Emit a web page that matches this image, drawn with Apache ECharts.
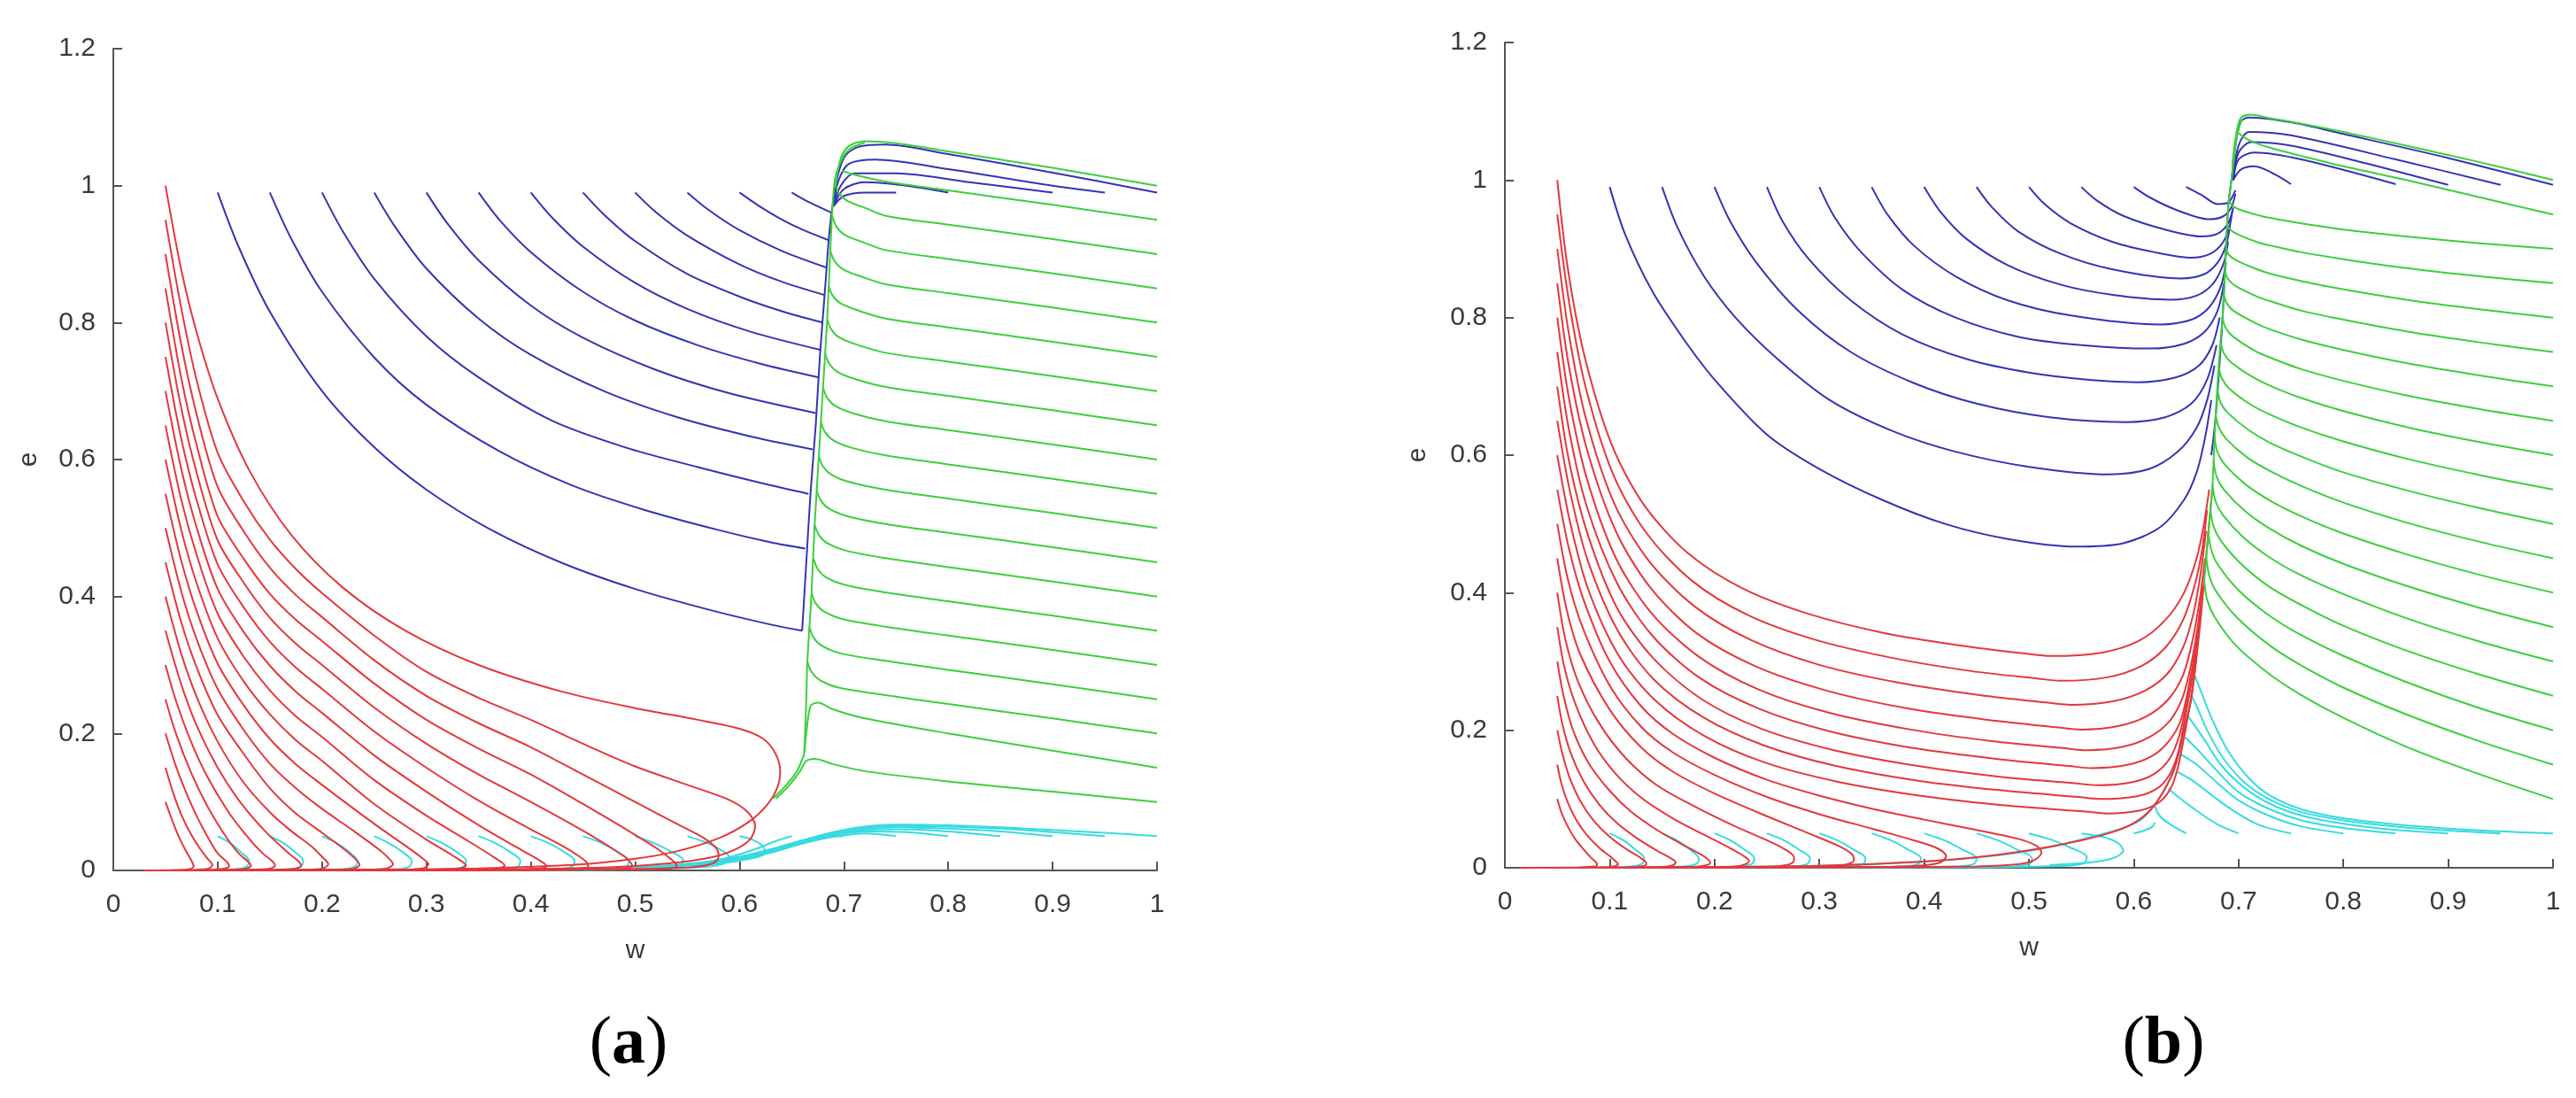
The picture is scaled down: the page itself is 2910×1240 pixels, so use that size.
<!DOCTYPE html>
<html>
<head>
<meta charset="utf-8">
<script src="https://cdn.jsdelivr.net/npm/echarts@6/dist/echarts.min.js"></script>
<style>
html, body { margin: 0; padding: 0; background: #fff; }
#chart { width: 2910px; height: 1240px; }
</style>
</head>
<body>
<div id="chart"></div>
<script>
// tick labels
var xTickLabels = ['0', '0.1', '0.2', '0.3', '0.4', '0.5', '0.6', '0.7', '0.8', '0.9', '1'];
var yTickLabels = ['0', '0.2', '0.4', '0.6', '0.8', '1', '1.2'];
var panelLabels = ['a', 'b'];

// ---- panel (a) trajectories, [w, e] ----
var aRed = [
  [[0.05,0.1],[0.056,0.075],[0.062,0.052],[0.069,0.03],[0.075,0.014],[0.077,0.006],[0.073,0.002],[0.06,0.0006],[0.03,0]],
  [[0.05,0.15],[0.057,0.115],[0.065,0.082],[0.074,0.054],[0.083,0.032],[0.091,0.016],[0.095,0.008],[0.091,0.0025],[0.075,0.0007],[0.04,0]],
  [[0.05,0.2],[0.06,0.152],[0.07,0.113],[0.08,0.079],[0.09,0.05],[0.1,0.025],[0.109,0.012],[0.111,0.006],[0.106,0.0025],[0.09,0.0007],[0.05,0]],
  [[0.05,0.25],[0.06,0.2],[0.075,0.141],[0.09,0.094],[0.105,0.056],[0.12,0.025],[0.129,0.013],[0.132,0.007],[0.127,0.0025],[0.11,0.0008],[0.06,0]],
  [[0.05,0.3],[0.06,0.248],[0.075,0.186],[0.09,0.137],[0.11,0.086],[0.127,0.052],[0.143,0.025],[0.152,0.014],[0.155,0.007],[0.15,0.0025],[0.13,0.0008],[0.07,0]],
  [[0.05,0.35],[0.065,0.272],[0.08,0.211],[0.1,0.15],[0.12,0.103],[0.145,0.058],[0.168,0.025],[0.177,0.014],[0.18,0.007],[0.175,0.0025],[0.155,0.0008],[0.08,0]],
  [[0.05,0.4],[0.065,0.317],[0.08,0.253],[0.1,0.188],[0.125,0.128],[0.15,0.085],[0.17,0.058],[0.19,0.035],[0.2,0.02],[0.206,0.009],[0.2,0.0025],[0.18,0.0008],[0.09,0]],
  [[0.05,0.45],[0.065,0.363],[0.08,0.296],[0.1,0.227],[0.125,0.17],[0.15,0.12],[0.175,0.083],[0.2,0.055],[0.222,0.03],[0.233,0.015],[0.236,0.008],[0.23,0.0025],[0.21,0.0008],[0.1,0]],
  [[0.05,0.5],[0.065,0.408],[0.08,0.337],[0.1,0.265],[0.125,0.205],[0.15,0.156],[0.175,0.12],[0.2,0.09],[0.23,0.058],[0.255,0.03],[0.265,0.016],[0.268,0.009],[0.262,0.003],[0.24,0.001],[0.11,0]],
  [[0.05,0.55],[0.065,0.453],[0.08,0.378],[0.1,0.302],[0.125,0.241],[0.15,0.192],[0.175,0.155],[0.2,0.125],[0.25,0.068],[0.28,0.036],[0.296,0.018],[0.302,0.009],[0.296,0.003],[0.27,0.001],[0.12,0]],
  [[0.05,0.6],[0.065,0.498],[0.08,0.419],[0.1,0.339],[0.125,0.276],[0.15,0.228],[0.175,0.19],[0.2,0.16],[0.25,0.097],[0.3,0.045],[0.325,0.022],[0.335,0.012],[0.338,0.007],[0.332,0.003],[0.3,0.001],[0.13,0]],
  [[0.05,0.65],[0.065,0.542],[0.08,0.46],[0.1,0.375],[0.125,0.312],[0.15,0.263],[0.175,0.225],[0.2,0.195],[0.25,0.132],[0.3,0.08],[0.34,0.043],[0.362,0.022],[0.372,0.012],[0.375,0.007],[0.369,0.003],[0.34,0.001],[0.14,0]],
  [[0.05,0.7],[0.065,0.587],[0.08,0.5],[0.1,0.411],[0.125,0.348],[0.15,0.299],[0.175,0.261],[0.2,0.23],[0.25,0.168],[0.3,0.115],[0.35,0.066],[0.385,0.035],[0.405,0.018],[0.413,0.01],[0.415,0.006],[0.409,0.003],[0.38,0.0012],[0.15,0]],
  [[0.05,0.75],[0.065,0.631],[0.08,0.54],[0.1,0.447],[0.125,0.384],[0.15,0.334],[0.175,0.296],[0.2,0.265],[0.25,0.203],[0.3,0.15],[0.35,0.102],[0.4,0.06],[0.43,0.036],[0.447,0.02],[0.454,0.011],[0.455,0.006],[0.449,0.003],[0.42,0.0012],[0.16,0]],
  [[0.05,0.8],[0.065,0.676],[0.08,0.58],[0.1,0.482],[0.125,0.42],[0.15,0.369],[0.175,0.331],[0.2,0.3],[0.25,0.238],[0.3,0.185],[0.35,0.14],[0.4,0.1],[0.45,0.058],[0.475,0.035],[0.49,0.02],[0.496,0.011],[0.497,0.006],[0.491,0.003],[0.46,0.0015],[0.18,0]],
  [[0.05,0.85],[0.065,0.72],[0.08,0.62],[0.1,0.517],[0.125,0.455],[0.15,0.404],[0.175,0.366],[0.2,0.335],[0.25,0.273],[0.3,0.22],[0.35,0.178],[0.4,0.14],[0.45,0.097],[0.5,0.052],[0.52,0.033],[0.533,0.018],[0.539,0.01],[0.54,0.006],[0.533,0.003],[0.5,0.0015],[0.2,0]],
  [[0.05,0.9],[0.065,0.769],[0.08,0.665],[0.1,0.56],[0.125,0.495],[0.15,0.442],[0.175,0.402],[0.2,0.37],[0.25,0.307],[0.3,0.255],[0.35,0.215],[0.4,0.18],[0.45,0.14],[0.5,0.1],[0.54,0.068],[0.565,0.048],[0.578,0.032],[0.58,0.02],[0.574,0.01],[0.555,0.005],[0.5,0.002],[0.4,0.0008],[0.2,0]],
  [[0.05,0.95],[0.065,0.822],[0.08,0.715],[0.1,0.61],[0.125,0.539],[0.15,0.483],[0.175,0.44],[0.2,0.405],[0.25,0.343],[0.3,0.29],[0.35,0.252],[0.4,0.22],[0.45,0.185],[0.5,0.152],[0.55,0.125],[0.59,0.103],[0.608,0.085],[0.615,0.065],[0.61,0.045],[0.595,0.03],[0.57,0.018],[0.53,0.01],[0.48,0.005],[0.38,0.0018],[0.2,0]],
  [[0.05,1.0],[0.065,0.878],[0.08,0.785],[0.1,0.689],[0.13,0.585],[0.17,0.491],[0.22,0.413],[0.28,0.35],[0.35,0.3],[0.43,0.261],[0.5,0.237],[0.56,0.22],[0.6,0.207],[0.622,0.193],[0.634,0.172],[0.639,0.145],[0.636,0.12],[0.626,0.095],[0.608,0.07],[0.58,0.047],[0.54,0.028],[0.5,0.017],[0.45,0.009],[0.35,0.003],[0.2,0]]
];

var aBlue = [
  [[0.1,0.99],[0.12,0.911],[0.15,0.816],[0.2,0.7],[0.25,0.618],[0.3,0.556],[0.36,0.499],[0.43,0.449],[0.5,0.411],[0.57,0.381],[0.63,0.359],[0.66,0.35]],
  [[0.15,0.99],[0.17,0.924],[0.2,0.845],[0.25,0.749],[0.3,0.68],[0.37,0.612],[0.44,0.562],[0.51,0.526],[0.58,0.497],[0.63,0.479],[0.663,0.47]],
  [[0.2,0.99],[0.22,0.933],[0.25,0.864],[0.3,0.78],[0.35,0.72],[0.42,0.657],[0.49,0.618],[0.56,0.589],[0.62,0.566],[0.666,0.55]],
  [[0.25,0.99],[0.27,0.94],[0.3,0.879],[0.35,0.806],[0.4,0.753],[0.47,0.7],[0.54,0.662],[0.61,0.634],[0.67,0.615]],
  [[0.3,0.99],[0.32,0.945],[0.35,0.891],[0.4,0.825],[0.45,0.778],[0.52,0.731],[0.59,0.697],[0.673,0.668]],
  [[0.35,0.99],[0.37,0.95],[0.4,0.903],[0.45,0.845],[0.5,0.803],[0.56,0.767],[0.62,0.74],[0.676,0.72]],
  [[0.4,0.99],[0.42,0.954],[0.45,0.911],[0.5,0.858],[0.55,0.82],[0.61,0.787],[0.678,0.76]],
  [[0.45,0.99],[0.47,0.958],[0.5,0.919],[0.55,0.871],[0.6,0.838],[0.64,0.817],[0.68,0.8]],
  [[0.5,0.99],[0.52,0.961],[0.55,0.927],[0.6,0.885],[0.64,0.86],[0.682,0.84]],
  [[0.55,0.99],[0.57,0.965],[0.6,0.935],[0.64,0.905],[0.684,0.88]],
  [[0.6,0.99],[0.62,0.969],[0.64,0.951],[0.66,0.936],[0.686,0.92]],
  [[0.65,0.99],[0.665,0.977],[0.689,0.96]],
  [[0.66,0.35],[0.664,0.45],[0.668,0.55],[0.673,0.65],[0.677,0.75],[0.682,0.85],[0.686,0.93],[0.69,0.98],[0.695,1.02],[0.702,1.045],[0.715,1.057],[0.74,1.06],[0.8,1.046],[0.9,1.019],[1,0.99]],
  [[0.69,0.97],[0.695,1.008],[0.705,1.032],[0.73,1.038],[0.8,1.024],[0.9,1.0],[0.95,0.99]],
  [[0.69,0.97],[0.697,1.0],[0.71,1.018],[0.75,1.018],[0.82,1.005],[0.9,0.99]],
  [[0.69,0.97],[0.7,0.995],[0.72,1.005],[0.76,1.0],[0.8,0.99]],
  [[0.69,0.97],[0.7,0.985],[0.72,0.99],[0.75,0.99]]
];

var aGreen = [
  [[1,0.1],[0.9,0.115],[0.8,0.13],[0.72,0.145],[0.69,0.155],[0.672,0.163],[0.664,0.16],[0.658,0.145],[0.648,0.125],[0.635,0.105]],
  [[1,0.15],[0.9,0.175],[0.8,0.2],[0.72,0.222],[0.69,0.235],[0.675,0.245],[0.668,0.24],[0.664,0.2],[0.662,0.17]],
  [[1,0.2],[0.9,0.222],[0.8,0.243],[0.74,0.256],[0.695,0.267],[0.677,0.278],[0.669,0.29],[0.665,0.305]],
  [[1,0.25],[0.9,0.272],[0.8,0.293],[0.74,0.306],[0.697,0.317],[0.679,0.328],[0.671,0.34],[0.667,0.355]],
  [[1,0.3],[0.9,0.322],[0.8,0.343],[0.74,0.356],[0.699,0.367],[0.681,0.378],[0.673,0.39],[0.669,0.405]],
  [[1,0.35],[0.9,0.372],[0.8,0.393],[0.74,0.406],[0.701,0.417],[0.683,0.428],[0.675,0.44],[0.671,0.455]],
  [[1,0.4],[0.9,0.422],[0.8,0.443],[0.74,0.456],[0.702,0.467],[0.684,0.478],[0.676,0.49],[0.672,0.505]],
  [[1,0.45],[0.9,0.472],[0.8,0.493],[0.74,0.506],[0.704,0.517],[0.686,0.528],[0.678,0.54],[0.674,0.555]],
  [[1,0.5],[0.9,0.522],[0.8,0.543],[0.74,0.556],[0.706,0.567],[0.688,0.578],[0.68,0.59],[0.676,0.605]],
  [[1,0.55],[0.9,0.572],[0.8,0.593],[0.74,0.606],[0.708,0.617],[0.69,0.628],[0.682,0.64],[0.678,0.655]],
  [[1,0.6],[0.9,0.622],[0.8,0.643],[0.74,0.656],[0.71,0.667],[0.692,0.678],[0.684,0.69],[0.68,0.705]],
  [[1,0.65],[0.9,0.672],[0.8,0.693],[0.74,0.706],[0.712,0.717],[0.694,0.728],[0.686,0.74],[0.682,0.755]],
  [[1,0.7],[0.9,0.722],[0.8,0.743],[0.74,0.756],[0.714,0.767],[0.696,0.778],[0.688,0.79],[0.684,0.805]],
  [[1,0.75],[0.9,0.772],[0.8,0.793],[0.74,0.806],[0.715,0.817],[0.697,0.828],[0.689,0.84],[0.685,0.855]],
  [[1,0.8],[0.9,0.822],[0.8,0.843],[0.74,0.856],[0.717,0.867],[0.699,0.878],[0.691,0.89],[0.687,0.905]],
  [[1,0.85],[0.9,0.872],[0.8,0.893],[0.74,0.906],[0.719,0.917],[0.701,0.928],[0.693,0.94],[0.689,0.955]],
  [[1,0.9],[0.9,0.922],[0.8,0.943],[0.74,0.956],[0.721,0.967],[0.703,0.978],[0.695,0.99],[0.691,1.005]],
  [[1,0.95],[0.9,0.972],[0.8,0.993],[0.74,1.006],[0.71,1.016],[0.698,1.022]],
  [[1,1.0],[0.9,1.026],[0.8,1.05],[0.75,1.062],[0.72,1.065],[0.705,1.058],[0.697,1.04],[0.692,1.0]],
  [[0.662,0.17],[0.664,0.25],[0.665,0.305],[0.669,0.405],[0.672,0.505],[0.676,0.605],[0.68,0.705],[0.684,0.805],[0.687,0.905],[0.691,1.005],[0.697,1.035],[0.705,1.053],[0.72,1.063]],
  [[0.662,0.17],[0.655,0.145],[0.645,0.125],[0.632,0.105]]
];

var aCyan = [
  [[0.1,0.05],[0.112,0.04],[0.122,0.027],[0.13,0.014],[0.128,0.006],[0.118,0.002],[0.08,0.0005]],
  [[0.15,0.05],[0.163,0.04],[0.174,0.027],[0.182,0.014],[0.18,0.006],[0.169,0.002],[0.12,0.0005]],
  [[0.2,0.05],[0.214,0.04],[0.226,0.027],[0.234,0.014],[0.232,0.006],[0.22,0.002],[0.16,0.0005]],
  [[0.25,0.05],[0.264,0.04],[0.277,0.027],[0.286,0.014],[0.284,0.006],[0.272,0.002],[0.2,0.0005]],
  [[0.3,0.05],[0.315,0.04],[0.329,0.027],[0.338,0.014],[0.336,0.006],[0.323,0.002],[0.25,0.0005]],
  [[0.35,0.05],[0.366,0.04],[0.38,0.027],[0.39,0.014],[0.388,0.006],[0.374,0.002],[0.3,0.0005]],
  [[0.4,0.05],[0.417,0.04],[0.432,0.027],[0.442,0.014],[0.44,0.006],[0.425,0.002],[0.35,0.0005]],
  [[0.45,0.05],[0.468,0.04],[0.483,0.027],[0.494,0.014],[0.492,0.006],[0.476,0.002],[0.4,0.0005]],
  [[0.5,0.05],[0.518,0.04],[0.535,0.027],[0.546,0.015],[0.544,0.007],[0.528,0.003],[0.45,0.0008]],
  [[0.55,0.05],[0.566,0.042],[0.58,0.032],[0.59,0.02],[0.585,0.01],[0.565,0.005],[0.5,0.002]],
  [[0.6,0.05],[0.612,0.045],[0.622,0.036],[0.625,0.026],[0.61,0.017],[0.58,0.01],[0.54,0.006],[0.5,0.003]],
  [[1,0.05],[0.95,0.055],[0.9,0.059],[0.85,0.063],[0.8,0.066],[0.75,0.067],[0.72,0.064],[0.69,0.056],[0.66,0.044],[0.63,0.031],[0.6,0.02],[0.56,0.011],[0.52,0.006],[0.47,0.003],[0.4,0.0015]],
  [[0.95,0.05],[0.9,0.056],[0.85,0.061],[0.8,0.064],[0.75,0.065],[0.72,0.062],[0.69,0.055],[0.66,0.043],[0.63,0.03],[0.6,0.019],[0.56,0.011],[0.52,0.006],[0.47,0.003]],
  [[0.9,0.05],[0.85,0.057],[0.8,0.061],[0.75,0.063],[0.72,0.061],[0.69,0.054],[0.66,0.042],[0.63,0.029],[0.6,0.018],[0.56,0.01],[0.52,0.005]],
  [[0.85,0.05],[0.8,0.057],[0.75,0.06],[0.72,0.059],[0.69,0.052],[0.66,0.041],[0.63,0.028],[0.6,0.018],[0.56,0.01],[0.52,0.005]],
  [[0.8,0.05],[0.76,0.056],[0.72,0.057],[0.69,0.051],[0.66,0.04],[0.63,0.027],[0.6,0.017],[0.56,0.009]],
  [[0.75,0.05],[0.72,0.054],[0.69,0.049],[0.66,0.039],[0.63,0.026],[0.6,0.016],[0.56,0.009]],
  [[0.7,0.05],[0.68,0.048],[0.66,0.04],[0.63,0.026],[0.6,0.016],[0.56,0.009]],
  [[0.65,0.05],[0.635,0.043],[0.615,0.031],[0.59,0.019],[0.56,0.01]]
];

// ---- panel (b) trajectories, [w, e] ----
var bRed = [
  [[0.05,0.1],[0.054,0.08],[0.06,0.06],[0.067,0.042],[0.075,0.027],[0.082,0.015],[0.087,0.008],[0.088,0.004],[0.083,0.0015],[0.07,0.0004]],
  [[0.05,0.15],[0.054,0.122],[0.06,0.095],[0.068,0.07],[0.078,0.048],[0.09,0.029],[0.1,0.017],[0.106,0.009],[0.108,0.005],[0.104,0.002],[0.09,0.0005]],
  [[0.05,0.2],[0.055,0.165],[0.062,0.13],[0.072,0.097],[0.085,0.068],[0.1,0.045],[0.116,0.027],[0.128,0.016],[0.134,0.009],[0.135,0.005],[0.13,0.002],[0.115,0.0006]],
  [[0.05,0.25],[0.055,0.208],[0.063,0.166],[0.075,0.126],[0.09,0.092],[0.107,0.065],[0.127,0.042],[0.145,0.025],[0.157,0.015],[0.163,0.008],[0.16,0.0035],[0.15,0.0012],[0.1,0.0003]],
  [[0.05,0.3],[0.056,0.25],[0.065,0.2],[0.08,0.152],[0.1,0.112],[0.12,0.082],[0.145,0.055],[0.168,0.035],[0.185,0.021],[0.194,0.012],[0.196,0.007],[0.19,0.003],[0.175,0.001],[0.12,0.0003]],
  [[0.05,0.35],[0.057,0.29],[0.068,0.235],[0.085,0.18],[0.105,0.138],[0.13,0.102],[0.16,0.072],[0.19,0.048],[0.213,0.03],[0.227,0.018],[0.233,0.01],[0.229,0.005],[0.22,0.002],[0.2,0.0008],[0.14,0.0003]],
  [[0.05,0.4],[0.058,0.33],[0.07,0.27],[0.09,0.21],[0.115,0.16],[0.145,0.12],[0.18,0.09],[0.22,0.06],[0.25,0.04],[0.267,0.027],[0.276,0.015],[0.275,0.008],[0.267,0.0035],[0.25,0.0012],[0.17,0.0004]],
  [[0.05,0.45],[0.059,0.375],[0.072,0.31],[0.1,0.23],[0.13,0.175],[0.16,0.14],[0.2,0.108],[0.25,0.075],[0.29,0.05],[0.318,0.032],[0.331,0.02],[0.333,0.011],[0.326,0.005],[0.31,0.002],[0.28,0.0008],[0.2,0.0003]],
  [[0.05,0.5],[0.06,0.42],[0.074,0.35],[0.1,0.265],[0.13,0.205],[0.16,0.168],[0.2,0.135],[0.25,0.103],[0.3,0.078],[0.35,0.057],[0.39,0.04],[0.413,0.028],[0.421,0.017],[0.416,0.008],[0.4,0.0035],[0.37,0.0015],[0.25,0.0005]],
  [[0.05,0.55],[0.061,0.465],[0.075,0.39],[0.1,0.3],[0.13,0.235],[0.16,0.195],[0.2,0.16],[0.25,0.128],[0.3,0.105],[0.35,0.086],[0.4,0.07],[0.45,0.055],[0.49,0.042],[0.507,0.032],[0.512,0.022],[0.505,0.011],[0.49,0.005],[0.45,0.002],[0.3,0.0005]],
  [[0.05,0.6],[0.062,0.504],[0.079,0.407],[0.108,0.31],[0.143,0.244],[0.19,0.192],[0.248,0.153],[0.318,0.125],[0.4,0.104],[0.482,0.09],[0.552,0.082],[0.575,0.079],[0.605,0.083],[0.624,0.095],[0.635,0.115],[0.642,0.145],[0.648,0.19],[0.655,0.25],[0.66,0.31]],
  [[0.05,0.65],[0.062,0.548],[0.079,0.447],[0.108,0.344],[0.142,0.274],[0.189,0.219],[0.247,0.178],[0.316,0.148],[0.397,0.126],[0.478,0.112],[0.547,0.103],[0.57,0.1],[0.603,0.104],[0.622,0.115],[0.634,0.135],[0.642,0.165],[0.648,0.21],[0.655,0.27],[0.66,0.33]],
  [[0.05,0.7],[0.061,0.593],[0.079,0.485],[0.107,0.378],[0.142,0.304],[0.188,0.245],[0.245,0.202],[0.314,0.171],[0.394,0.148],[0.474,0.132],[0.543,0.123],[0.565,0.12],[0.6,0.125],[0.62,0.137],[0.634,0.158],[0.643,0.19],[0.65,0.235],[0.657,0.29],[0.662,0.35]],
  [[0.05,0.75],[0.061,0.638],[0.078,0.526],[0.107,0.414],[0.141,0.337],[0.186,0.276],[0.243,0.231],[0.311,0.198],[0.39,0.174],[0.47,0.158],[0.538,0.148],[0.56,0.145],[0.595,0.15],[0.618,0.163],[0.634,0.185],[0.645,0.215],[0.652,0.26],[0.659,0.32],[0.664,0.38]],
  [[0.05,0.8],[0.061,0.684],[0.078,0.567],[0.106,0.45],[0.14,0.37],[0.185,0.307],[0.241,0.26],[0.308,0.226],[0.387,0.201],[0.465,0.184],[0.533,0.174],[0.555,0.171],[0.59,0.176],[0.615,0.19],[0.634,0.213],[0.646,0.245],[0.654,0.29],[0.661,0.35],[0.666,0.41]],
  [[0.05,0.85],[0.061,0.73],[0.078,0.61],[0.106,0.489],[0.139,0.407],[0.183,0.341],[0.239,0.293],[0.306,0.258],[0.383,0.232],[0.461,0.215],[0.528,0.204],[0.55,0.201],[0.585,0.206],[0.612,0.22],[0.633,0.245],[0.647,0.28],[0.656,0.33],[0.663,0.39],[0.668,0.45]],
  [[0.05,0.9],[0.061,0.777],[0.077,0.655],[0.104,0.531],[0.137,0.447],[0.181,0.38],[0.235,0.331],[0.3,0.295],[0.376,0.269],[0.453,0.251],[0.518,0.24],[0.54,0.237],[0.58,0.242],[0.61,0.257],[0.632,0.282],[0.647,0.32],[0.657,0.37],[0.664,0.43],[0.669,0.49]],
  [[0.05,0.95],[0.061,0.825],[0.077,0.699],[0.103,0.573],[0.135,0.487],[0.178,0.418],[0.231,0.368],[0.295,0.332],[0.37,0.305],[0.445,0.286],[0.509,0.275],[0.53,0.272],[0.575,0.277],[0.607,0.293],[0.63,0.32],[0.647,0.36],[0.658,0.41],[0.665,0.46],[0.67,0.52]],
  [[0.05,1.0],[0.06,0.872],[0.076,0.744],[0.102,0.615],[0.133,0.527],[0.175,0.457],[0.227,0.406],[0.29,0.369],[0.363,0.341],[0.436,0.323],[0.499,0.311],[0.52,0.308],[0.57,0.313],[0.605,0.33],[0.63,0.36],[0.648,0.4],[0.66,0.45],[0.667,0.5],[0.672,0.55]],
  [[0.675,0.552],[0.669,0.45],[0.663,0.349],[0.655,0.247],[0.648,0.2],[0.639,0.145],[0.628,0.11],[0.616,0.084],[0.6,0.065],[0.58,0.052],[0.55,0.04],[0.51,0.028],[0.46,0.017],[0.4,0.009],[0.3,0.003],[0.15,0.0008],[0.015,0]]
];

var bBlue = [
  [[0.1,0.99],[0.115,0.92],[0.14,0.84],[0.17,0.77],[0.2,0.71],[0.25,0.63],[0.3,0.58],[0.36,0.535],[0.42,0.5],[0.48,0.478],[0.545,0.467],[0.59,0.472],[0.625,0.495],[0.648,0.535],[0.66,0.575],[0.668,0.625],[0.674,0.68]],
  [[0.15,0.99],[0.165,0.93],[0.19,0.86],[0.22,0.8],[0.26,0.74],[0.31,0.68],[0.37,0.635],[0.43,0.605],[0.5,0.583],[0.576,0.572],[0.615,0.58],[0.642,0.605],[0.66,0.64],[0.67,0.68],[0.677,0.73]],
  [[0.2,0.99],[0.215,0.94],[0.24,0.88],[0.28,0.81],[0.33,0.75],[0.39,0.705],[0.45,0.675],[0.52,0.655],[0.592,0.648],[0.63,0.655],[0.655,0.675],[0.67,0.71],[0.679,0.76]],
  [[0.25,0.99],[0.265,0.94],[0.29,0.885],[0.33,0.825],[0.38,0.775],[0.44,0.74],[0.5,0.72],[0.56,0.709],[0.604,0.706],[0.64,0.713],[0.662,0.73],[0.675,0.76],[0.682,0.8]],
  [[0.3,0.99],[0.315,0.945],[0.34,0.895],[0.38,0.84],[0.43,0.8],[0.49,0.772],[0.55,0.76],[0.616,0.755],[0.648,0.762],[0.668,0.78],[0.68,0.81],[0.686,0.85]],
  [[0.35,0.99],[0.365,0.95],[0.39,0.905],[0.43,0.86],[0.48,0.825],[0.54,0.803],[0.625,0.79],[0.655,0.797],[0.672,0.815],[0.683,0.845],[0.688,0.88]],
  [[0.4,0.99],[0.415,0.955],[0.44,0.915],[0.48,0.876],[0.53,0.848],[0.58,0.833],[0.635,0.826],[0.66,0.832],[0.676,0.85],[0.686,0.88],[0.69,0.91]],
  [[0.45,0.99],[0.465,0.96],[0.49,0.925],[0.53,0.893],[0.58,0.87],[0.645,0.857],[0.667,0.863],[0.68,0.88],[0.688,0.905],[0.692,0.935]],
  [[0.5,0.99],[0.515,0.965],[0.54,0.937],[0.58,0.91],[0.62,0.895],[0.655,0.887],[0.672,0.892],[0.684,0.907],[0.691,0.93],[0.694,0.955]],
  [[0.55,0.99],[0.565,0.97],[0.59,0.948],[0.63,0.928],[0.665,0.918],[0.68,0.922],[0.69,0.937],[0.695,0.96]],
  [[0.6,0.99],[0.615,0.975],[0.64,0.957],[0.672,0.943],[0.685,0.947],[0.693,0.96],[0.697,0.98]],
  [[0.65,0.99],[0.665,0.978],[0.68,0.965],[0.69,0.967],[0.697,0.985]],
  [[0.674,0.6],[0.678,0.653],[0.685,0.806],[0.69,0.958],[0.694,1.01],[0.698,1.06],[0.702,1.085],[0.71,1.091],[0.75,1.084],[0.8,1.067],[0.9,1.032],[1,0.993]],
  [[0.695,1.0],[0.7,1.05],[0.71,1.07],[0.75,1.065],[0.85,1.03],[0.95,0.993]],
  [[0.695,1.0],[0.7,1.04],[0.712,1.055],[0.75,1.05],[0.82,1.025],[0.9,0.993]],
  [[0.695,1.0],[0.7,1.03],[0.715,1.04],[0.76,1.03],[0.85,0.994]],
  [[0.695,1.0],[0.702,1.015],[0.715,1.02],[0.735,1.008],[0.75,0.994]]
];

var bGreen = [
  [[1,0.1],[0.93,0.136],[0.86,0.176],[0.8,0.218],[0.76,0.251],[0.73,0.281],[0.697,0.324],[0.677,0.365],[0.67,0.39],[0.667,0.42]],
  [[1,0.15],[0.93,0.184],[0.86,0.223],[0.8,0.262],[0.76,0.294],[0.73,0.323],[0.699,0.363],[0.679,0.401],[0.672,0.425],[0.669,0.454]],
  [[1,0.2],[0.93,0.232],[0.86,0.27],[0.8,0.308],[0.76,0.338],[0.73,0.366],[0.701,0.402],[0.681,0.439],[0.674,0.462],[0.671,0.489]],
  [[1,0.25],[0.93,0.281],[0.86,0.316],[0.8,0.352],[0.76,0.382],[0.73,0.408],[0.703,0.441],[0.683,0.476],[0.676,0.497],[0.673,0.523]],
  [[1,0.3],[0.93,0.329],[0.86,0.363],[0.8,0.398],[0.76,0.425],[0.73,0.451],[0.705,0.48],[0.685,0.513],[0.678,0.533],[0.675,0.558]],
  [[1,0.35],[0.93,0.378],[0.86,0.41],[0.8,0.442],[0.76,0.468],[0.73,0.493],[0.706,0.519],[0.686,0.55],[0.679,0.569],[0.676,0.592]],
  [[1,0.4],[0.93,0.426],[0.86,0.456],[0.8,0.486],[0.76,0.511],[0.73,0.534],[0.707,0.557],[0.687,0.586],[0.68,0.604],[0.677,0.626]],
  [[1,0.45],[0.93,0.474],[0.86,0.502],[0.8,0.531],[0.76,0.555],[0.73,0.577],[0.708,0.597],[0.688,0.624],[0.681,0.641],[0.678,0.661]],
  [[1,0.5],[0.93,0.523],[0.86,0.549],[0.8,0.575],[0.76,0.598],[0.73,0.618],[0.71,0.636],[0.69,0.661],[0.683,0.676],[0.68,0.695]],
  [[1,0.55],[0.93,0.571],[0.86,0.595],[0.8,0.62],[0.76,0.64],[0.73,0.659],[0.711,0.674],[0.691,0.697],[0.684,0.712],[0.681,0.729]],
  [[1,0.6],[0.93,0.619],[0.86,0.641],[0.8,0.664],[0.76,0.683],[0.73,0.701],[0.713,0.714],[0.693,0.735],[0.686,0.748],[0.683,0.764]],
  [[1,0.65],[0.93,0.667],[0.86,0.687],[0.8,0.708],[0.76,0.725],[0.73,0.742],[0.715,0.752],[0.695,0.772],[0.688,0.784],[0.685,0.798]],
  [[1,0.7],[0.93,0.716],[0.86,0.734],[0.8,0.753],[0.76,0.768],[0.73,0.783],[0.716,0.792],[0.696,0.809],[0.689,0.82],[0.686,0.833]],
  [[1,0.75],[0.93,0.764],[0.86,0.78],[0.8,0.797],[0.76,0.81],[0.73,0.824],[0.717,0.831],[0.697,0.846],[0.69,0.856],[0.687,0.867]],
  [[1,0.8],[0.93,0.812],[0.86,0.826],[0.8,0.841],[0.76,0.853],[0.73,0.864],[0.718,0.87],[0.698,0.883],[0.691,0.891],[0.688,0.901]],
  [[1,0.85],[0.93,0.86],[0.86,0.872],[0.8,0.885],[0.76,0.895],[0.73,0.905],[0.719,0.909],[0.699,0.921],[0.692,0.928],[0.689,0.936]],
  [[1,0.9],[0.93,0.908],[0.86,0.918],[0.8,0.928],[0.76,0.937],[0.73,0.945],[0.721,0.948],[0.701,0.957],[0.694,0.963],[0.691,0.97]],
  [[1,0.95],[0.93,0.975],[0.86,1.0],[0.8,1.02],[0.76,1.035],[0.73,1.047],[0.71,1.058],[0.7,1.068]],
  [[1,1.0],[0.93,1.026],[0.86,1.05],[0.8,1.07],[0.76,1.082],[0.73,1.09],[0.712,1.095],[0.702,1.09],[0.697,1.06],[0.694,1.02]],
  [[0.667,0.42],[0.669,0.45],[0.672,0.5],[0.675,0.552],[0.678,0.653],[0.682,0.75],[0.685,0.806],[0.688,0.9],[0.69,0.958],[0.694,1.01],[0.698,1.06],[0.703,1.088]]
];

var bCyan = [
  [[0.1,0.05],[0.113,0.04],[0.124,0.027],[0.133,0.014],[0.131,0.006],[0.12,0.002],[0.08,0.0005]],
  [[0.15,0.05],[0.164,0.04],[0.176,0.027],[0.185,0.014],[0.183,0.006],[0.171,0.002],[0.12,0.0005]],
  [[0.2,0.05],[0.215,0.04],[0.228,0.027],[0.238,0.014],[0.236,0.006],[0.223,0.002],[0.16,0.0005]],
  [[0.25,0.05],[0.266,0.04],[0.28,0.027],[0.291,0.014],[0.289,0.006],[0.275,0.002],[0.2,0.0005]],
  [[0.3,0.05],[0.317,0.04],[0.332,0.027],[0.344,0.014],[0.342,0.006],[0.327,0.002],[0.25,0.0005]],
  [[0.35,0.05],[0.368,0.04],[0.384,0.027],[0.397,0.014],[0.395,0.006],[0.379,0.002],[0.3,0.0005]],
  [[0.4,0.05],[0.419,0.04],[0.436,0.027],[0.45,0.014],[0.448,0.006],[0.431,0.002],[0.35,0.0005]],
  [[0.45,0.05],[0.47,0.04],[0.488,0.027],[0.503,0.014],[0.501,0.006],[0.483,0.002],[0.4,0.0005]],
  [[0.5,0.05],[0.521,0.041],[0.54,0.029],[0.555,0.016],[0.553,0.007],[0.535,0.003],[0.45,0.0008]],
  [[0.55,0.05],[0.57,0.045],[0.585,0.036],[0.59,0.025],[0.582,0.015],[0.56,0.008],[0.52,0.004]],
  [[0.6,0.05],[0.61,0.054],[0.618,0.06],[0.62,0.066]],
  [[1,0.05],[0.95,0.053],[0.9,0.057],[0.85,0.063],[0.8,0.072],[0.76,0.085],[0.73,0.105],[0.71,0.13],[0.69,0.17],[0.675,0.215],[0.662,0.265],[0.658,0.28]],
  [[0.95,0.05],[0.9,0.054],[0.85,0.06],[0.8,0.069],[0.76,0.081],[0.73,0.099],[0.705,0.125],[0.685,0.16],[0.67,0.2],[0.66,0.235],[0.655,0.25]],
  [[0.9,0.05],[0.85,0.055],[0.8,0.064],[0.76,0.076],[0.73,0.093],[0.705,0.117],[0.683,0.15],[0.668,0.185],[0.652,0.22]],
  [[0.85,0.05],[0.8,0.058],[0.76,0.069],[0.73,0.085],[0.7,0.11],[0.68,0.14],[0.662,0.17],[0.649,0.19]],
  [[0.8,0.05],[0.76,0.06],[0.73,0.075],[0.7,0.098],[0.68,0.123],[0.66,0.15],[0.645,0.165]],
  [[0.75,0.05],[0.72,0.062],[0.695,0.083],[0.675,0.105],[0.655,0.128],[0.641,0.14]],
  [[0.7,0.05],[0.68,0.063],[0.66,0.083],[0.645,0.1],[0.633,0.115]],
  [[0.65,0.05],[0.635,0.063],[0.625,0.075],[0.62,0.09]],
  [[0.659,0.3],[0.655,0.247],[0.648,0.2],[0.639,0.145],[0.628,0.11],[0.616,0.084],[0.605,0.068],[0.59,0.058],[0.56,0.045],[0.52,0.03],[0.47,0.018],[0.4,0.009],[0.3,0.003],[0.15,0.0008],[0.02,0]]
];

var colors = { red: '#e4373c', blue: '#3434b4', green: '#3ccf3c', cyan: '#36dbe0' };

function axisX(grid) {
    return {
        type: 'value', gridIndex: grid, min: 0, max: 1, interval: 0.1,
        name: 'w', nameLocation: 'middle', nameGap: 76,
        nameTextStyle: { color: '#3a3a3a', fontSize: 30, fontFamily: 'Liberation Sans' },
        axisLine: { lineStyle: { color: '#555', width: 2 } },
        axisTick: { inside: true, length: 10, lineStyle: { color: '#555', width: 2 } },
        axisLabel: {
            color: '#3a3a3a', fontSize: 30, fontFamily: 'Liberation Sans', margin: 24,
            formatter: function (v) { return xTickLabels[Math.round(v * 10)]; }
        },
        splitLine: { show: false }
    };
}
function axisY(grid, gap) {
    return {
        type: 'value', gridIndex: grid, min: 0, max: 1.2, interval: 0.2,
        name: 'e', nameLocation: 'middle', nameGap: gap,
        nameTextStyle: { color: '#3a3a3a', fontSize: 30, fontFamily: 'Liberation Sans' },
        axisLine: { lineStyle: { color: '#555', width: 2 } },
        axisTick: { inside: true, length: 10, lineStyle: { color: '#555', width: 2 } },
        axisLabel: {
            color: '#3a3a3a', fontSize: 30, fontFamily: 'Liberation Sans', margin: 20,
            formatter: function (v) { return yTickLabels[Math.round(v * 5)]; }
        },
        splitLine: { show: false }
    };
}

var series = [];
function addFamily(curves, color, panel) {
    for (var i = 0; i < curves.length; i++) {
        series.push({
            type: 'line', xAxisIndex: panel, yAxisIndex: panel,
            data: curves[i], showSymbol: false, symbol: 'none',
            smooth: 0.3, silent: true,
            lineStyle: { color: color, width: 2 }
        });
    }
}
addFamily(aCyan, colors.cyan, 0);
addFamily(aRed, colors.red, 0);
addFamily(aBlue, colors.blue, 0);
addFamily(aGreen, colors.green, 0);
addFamily(bCyan, colors.cyan, 1);
addFamily(bRed, colors.red, 1);
addFamily(bBlue, colors.blue, 1);
addFamily(bGreen, colors.green, 1);

function panelTag(x, label) {
    return {
        type: 'text', x: x, y: 1180,
        style: {
            text: '{p|(}{b|' + label + '}{p|)}',
            textAlign: 'center', textVerticalAlign: 'middle',
            rich: {
                p: { fontSize: 76, fontFamily: 'Liberation Serif', fill: '#000' },
                b: { fontSize: 76, fontFamily: 'Liberation Serif', fontWeight: 'bold', fill: '#000' }
            }
        }
    };
}

var chart = echarts.init(document.getElementById('chart'));
chart.setOption({
    backgroundColor: '#fff',
    animation: false,
    grid: [
        { left: 128, top: 55, width: 1179, height: 928 },
        { left: 1700, top: 48, width: 1184, height: 932 }
    ],
    xAxis: [axisX(0), axisX(1)],
    yAxis: [axisY(0, 80), axisY(1, 83)],
    series: series,
    graphic: [panelTag(710, panelLabels[0]), panelTag(2444, panelLabels[1])]
});
window.addEventListener('resize', chart.resize);
</script>
</body>
</html>
